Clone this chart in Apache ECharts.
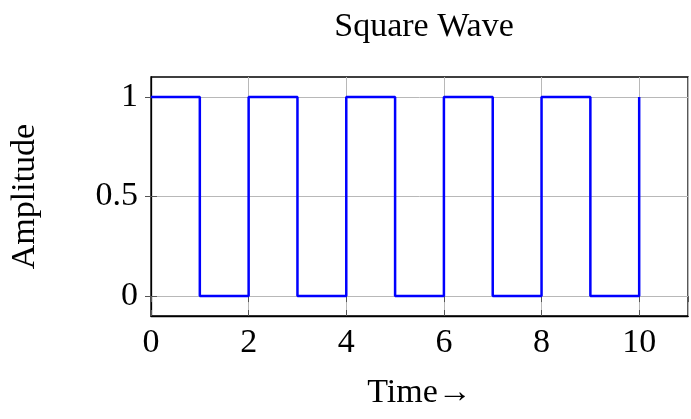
<!DOCTYPE html>
<html><head><meta charset="utf-8">
<script src="https://cdn.jsdelivr.net/npm/echarts@6/dist/echarts.min.js"></script>
<style>html,body{margin:0;padding:0;background:#fff}#c{width:691px;height:419px}</style>
</head><body><div id="c"></div>
<script>
const time = [0,1,2,3,4,5,6,7,8,9,10];
const amplitude = [1,0,1,0,1,0,1,0,1,0,1];
const xTicks = [0,2,4,6,8,10];
const yTicks = [0,0.5,1];
const titleText = 'Square Wave';
const xName = 'Time\u2192';
const yName = 'Amplitude';

const FONT = 'Liberation Serif';
const FS = 34;
const chart = echarts.init(document.getElementById('c'), null, {renderer:'canvas'});
const tickStyle = {show:true, inside:true, length:6, lineStyle:{color:'#555', width:1}};
const split = {show:true, lineStyle:{color:'#b8b8b8', width:1}};
chart.setOption({
  animation:false,
  backgroundColor:'#fff',
  title:{text:titleText, left:419, top:5, textAlign:'center',
    textStyle:{fontFamily:FONT, fontSize:FS, fontWeight:'normal', color:'#000'}},
  grid:{left:151, right:3, top:77, bottom:103, show:true, borderColor:'#000', borderWidth:1.3,
    containLabel:false, outerBoundsMode:'none'},
  xAxis:[{type:'value', min:0, max:11, interval:2, position:'bottom',
    name:xName, nameLocation:'middle', nameGap:60,
    nameTextStyle:{fontFamily:FONT, fontSize:FS, color:'#000'},
    axisLine:{show:true, onZero:false, lineStyle:{color:'#000', width:1.3}},
    axisTick:tickStyle, splitLine:split,
    axisLabel:{fontFamily:FONT, fontSize:FS, color:'#000', margin:10, showMaxLabel:false,
      formatter:v=>xTicks.includes(v)?String(v):''}},
    {type:'value', min:0, max:11, interval:2, position:'top', axisLine:{show:false},
     axisTick:tickStyle, axisLabel:{show:false}, splitLine:{show:false}}],
  yAxis:[{type:'value', min:-0.1, max:1.1, position:'left',
    name:yName, nameLocation:'middle', nameGap:109, nameRotate:90,
    nameTextStyle:{fontFamily:FONT, fontSize:FS, color:'#000'},
    axisLine:{show:true, onZero:false, lineStyle:{color:'#000', width:1.3}},
    axisTick:Object.assign({customValues:yTicks}, tickStyle),
    splitLine:Object.assign({customValues:yTicks}, split),
    axisLabel:{customValues:yTicks, fontFamily:FONT, fontSize:FS, color:'#000', margin:13,
      formatter:v=>String(v)}},
    {type:'value', min:-0.1, max:1.1, position:'right', axisLine:{show:false},
     axisTick:Object.assign({customValues:yTicks}, tickStyle), axisLabel:{show:false}, splitLine:{show:false}}],
  series:[{type:'line', step:'end', data:time.map((t,i)=>[t, amplitude[i]]),
    showSymbol:false, lineStyle:{color:'#0000ff', width:2.5}, clip:false}]
});
</script></body></html>
